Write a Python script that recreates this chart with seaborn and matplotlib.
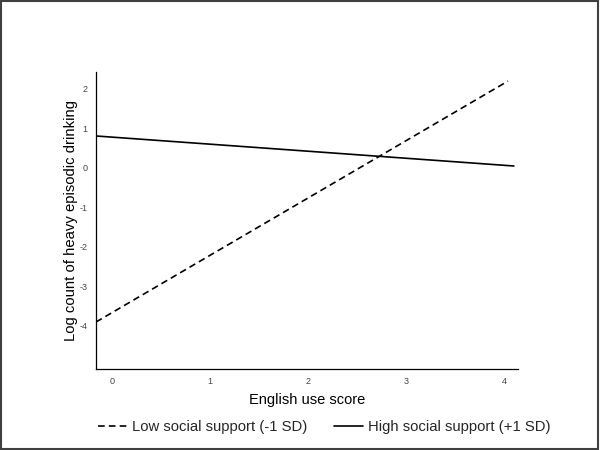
import pandas as pd
import matplotlib.pyplot as plt
import matplotlib.lines as mlines
import matplotlib.patches as mpatches
import seaborn as sns

# ── Data (simple slopes) ──────────────────────────────────────────────
groups = ["Low social support (-1 SD)", "High social support (+1 SD)"]
low_x = [-0.16, 4.04]
low_y = [-3.9, 2.2]
high_x = [-0.16, 4.1]
high_y = [0.81, 0.05]
x_ticks = [0, 1, 2, 3, 4]
y_ticks = [-4, -3, -2, -1, 0, 1, 2]

df = pd.concat([
    pd.DataFrame({"english": low_x, "log_hed": low_y, "group": groups[0]}),
    pd.DataFrame({"english": high_x, "log_hed": high_y, "group": groups[1]}),
])

# ── Style ──────────────────────────────────────────────────────────────
sns.set_theme(style="white")
plt.rcParams.update({
    "font.family": ["Liberation Sans", "DejaVu Sans"],
    "axes.spines.top": False,
    "axes.spines.right": False,
    "axes.unicode_minus": False,
})

fig = plt.figure(figsize=(6, 4.5), dpi=100)
ax = fig.add_axes([0.16, 0.18, 0.703, 0.66])

sns.lineplot(data=df, x="english", y="log_hed", style="group",
             dashes={groups[0]: (4, 2.5), groups[1]: ""},
             color="black", linewidth=1.2, ax=ax, legend=False)

ax.set_xlim(-0.16, 4.14)
ax.set_ylim(-5.09, 2.43)
ax.set_xticks(x_ticks)
ax.set_yticks(y_ticks)
ax.tick_params(axis="both", length=0, labelsize=6.5, colors="#444444", pad=6)
for s in ["left", "bottom"]:
    ax.spines[s].set_color("black")
    ax.spines[s].set_linewidth(0.9)
ax.set_xlabel("English use score", fontsize=10.5, color="black", labelpad=5)
ax.set_ylabel("Log count of heavy episodic drinking", fontsize=10.7, color="black", labelpad=1)

handles = [
    mlines.Line2D([], [], color="black", linestyle=(0, (4, 2.5)), linewidth=1.2, label=groups[0]),
    mlines.Line2D([], [], color="black", linestyle="-", linewidth=1.2, label=groups[1]),
]
fig.legend(handles=handles, loc="center", bbox_to_anchor=(0.54, 0.051), ncol=2,
           frameon=False, fontsize=10.7, handlelength=2.0, handletextpad=0.3, columnspacing=1.8)

# border around the whole figure
fig.patches.append(mpatches.Rectangle((0.002, 0.003), 0.995, 0.994, transform=fig.transFigure,
                                      fill=False, edgecolor="#404040", linewidth=1.5))

fig.savefig("out.png", dpi=100)
